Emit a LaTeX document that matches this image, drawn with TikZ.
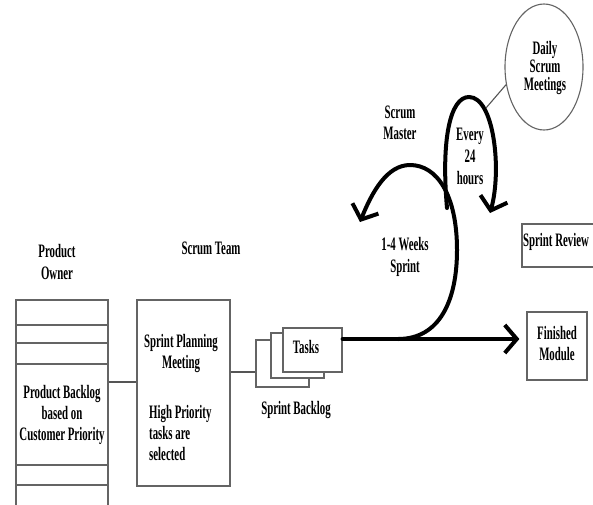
\documentclass[tikz,border=0pt]{standalone}
\usepackage{fontspec}
\setmainfont{Liberation Serif}[FakeStretch=0.57]
\usetikzlibrary{arrows.meta,shapes.geometric}
\definecolor{boxgray}{RGB}{100,100,100}
\definecolor{linegray}{RGB}{85,85,85}
\begin{document}
\begin{tikzpicture}[x=1pt,y=-1pt,
  txt/.style={font=\fontsize{19}{21}\selectfont\bfseries, align=center, inner sep=0pt},
  box/.style={rectangle, draw=boxgray, line width=1.2pt, fill=white, inner sep=0pt,
    font=\fontsize{19}{21}\selectfont\bfseries, align=center},
  thinline/.style={draw=linegray, line width=1.1pt},
  thickline/.style={line width=4pt, line cap=round},
  barb/.style={-{Straight Barb[length=12pt,width=28pt]}}]
\fill[white] (0,0) rectangle (593,504);
\useasboundingbox (0,0) rectangle (593,504);
\clip (0,0) rectangle (593,504);

% product backlog column
\node[box, minimum width=92pt, minimum height=25pt] (r1) at (62,312.5) {};
\node[box, minimum width=92pt, minimum height=18pt] (r2) at (62,334) {};
\node[box, minimum width=92pt, minimum height=21pt] (r3) at (62,353.5) {};
\node[box, minimum width=92pt, minimum height=101pt] (main) at (62,414.5) {Product Backlog\\based on\\Customer Priority};
\node[box, minimum width=92pt, minimum height=20pt] (r4) at (62,475) {};
\node[box, minimum width=92pt, minimum height=30pt] (r5) at (62,500) {};
\node[txt, font=\fontsize{19}{22}\selectfont\bfseries] (po) at (57,262) {Product\\Owner};

% sprint planning
\node[box, minimum width=93pt, minimum height=186pt] (plan) at (183.5,393) {};
\node[txt] (spm) at (181,353) {Sprint Planning\\Meeting};
\node[txt, align=left, anchor=west] (hp) at (149,433) {High Priority\\tasks are\\selected};
\node[txt] (team) at (211,248) {Scrum Team};

% tasks
\node[box, minimum width=53pt, minimum height=47pt] (back) at (282.5,363.5) {};
\node[box, minimum width=53pt, minimum height=45pt] (mid) at (297.5,355.5) {};
\node[box, minimum width=59pt, minimum height=44pt] (front) at (312.5,350) {};
\node[txt] (tasks) at (306,347) {Tasks};
\node[txt] (sb) at (296,410) {Sprint Backlog};

% finished module, sprint review
\node[box, minimum width=60pt, minimum height=68pt] (fin) at (557,346) {};
\node[txt] (fint) at (557,344) {Finished\\Module};
\node[box, minimum width=80pt, minimum height=43pt] (rev) at (562,245.5) {};
\node[txt] (revt) at (556,242) {Sprint Review};

% daily scrum
\node[ellipse, draw=boxgray, line width=1.1pt, minimum width=78pt, minimum height=126pt, inner sep=0pt] (daily) at (544,67) {};
\node[txt, font=\fontsize{19}{18}\selectfont\bfseries] (dt) at (545,68) {Daily\\Scrum\\Meetings};
\node[txt] (sm) at (400,123) {Scrum\\Master};
\node[txt, font=\fontsize{19}{22}\selectfont\bfseries] (ev) at (470,156) {Every\\24\\hours};
\node[txt, font=\fontsize{19}{22}\selectfont\bfseries] (wk) at (405,257) {1-4 Weeks\\Sprint};

% connectors
\draw[thinline] (main.east |- 0,382) -- (plan.west |- 0,382);
\draw[thinline] (plan.east |- 0,372) -- (back.west |- 0,372);
\draw[thickline, barb, shorten >=7pt] (front.east |- 0,339) -- (fin.west |- 0,339);

\coordinate (arcstart) at (398,339);
\coordinate (arcend) at (360,222);
\draw[thickline, barb] (arcstart) .. controls (440,339) and (457,300) .. (457,250)
  .. controls (457,195) and (437,165) .. (410,165)
  .. controls (387,165) and (372,192) .. (arcend);

\coordinate (loopstart) at (447,208);
\coordinate (loopend) at (490,213);
\draw[thickline, barb] (loopstart) .. controls (441,140) and (450,97) .. (469,97)
  .. controls (494,97) and (502,170) .. (loopend);

\coordinate (lp) at (486,108);
\draw[thinline] (lp) -- (daily.205);
\end{tikzpicture}
\end{document}
